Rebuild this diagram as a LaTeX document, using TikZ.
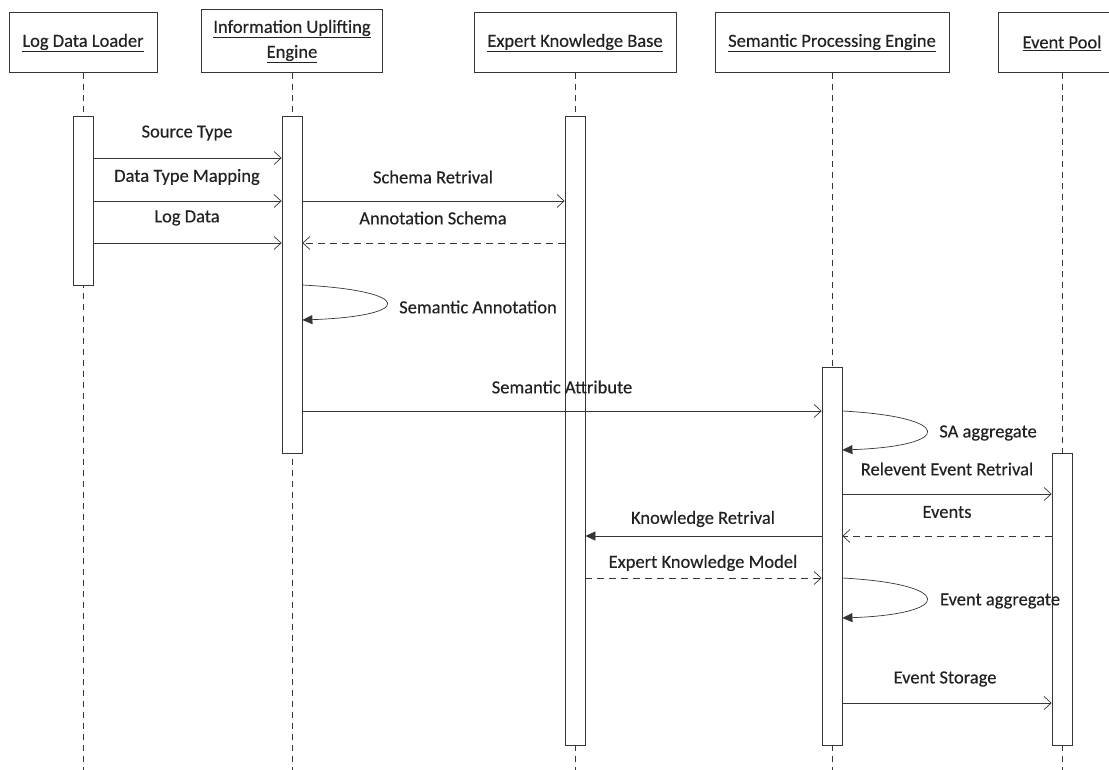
\documentclass[tikz,border=0pt]{standalone}
\usepackage{fontspec}
\setmainfont{Carlito}[UprightFeatures={FakeBold=0.3}]
\usetikzlibrary{arrows.meta}
\definecolor{ink}{HTML}{222222}
\definecolor{rule}{HTML}{363636}

\begin{document}
\begin{tikzpicture}[x=1pt,y=-1pt,
  every node/.style={font=\fontsize{18.5}{23}\selectfont, text=ink},
  head/.style={draw=rule, line width=1pt, fill=white, inner sep=0pt, align=center},
  life/.style={draw=rule, line width=0.7pt, dash pattern=on 6pt off 5pt},
  actbar/.style={draw=rule, line width=0.8pt, fill=white, minimum width=20pt, inner sep=0pt},
  msg/.style={draw=rule, line width=0.7pt, -{Straight Barb[length=7pt,width=13pt,line width=0.7pt]}},
  reply/.style={msg, dash pattern=on 7pt off 5pt},
  call/.style={draw=rule, line width=0.7pt, -{Triangle[length=10pt,width=9pt]}},
  lbl/.style={inner sep=1pt},
]
\clip (0,0) rectangle (1109,770);
\fill[white] (0,0) rectangle (1109,770);

% participants
\node[head, minimum width=148pt, minimum height=60pt] (ldl) at (83,43) {\underline{Log Data Loader}};
\node[head, minimum width=181pt, minimum height=63pt] (iue) at (292,41.5) {\underline{Information Uplifting}\\[2pt]\underline{Engine}};
\node[head, minimum width=202pt, minimum height=60pt] (ekb) at (575,43) {\underline{Expert Knowledge Base}};
\node[head, minimum width=234pt, minimum height=60pt] (spe) at (832,43) {\underline{Semantic Processing Engine}};
\node[head, minimum width=128pt, minimum height=60pt] (ep)  at (1062,43) {\underline{Event Pool}};

% lifelines
\coordinate (ldlEnd) at (83,770);
\coordinate (iueEnd) at (292,770);
\coordinate (ekbEnd) at (575,770);
\coordinate (speEnd) at (832,770);
\coordinate (epEnd)  at (1062,770);
\draw[life] (ldl.south) -- (ldlEnd);
\draw[life] (iue.south) -- (iueEnd);
\draw[life] (ekb.south) -- (ekbEnd);
\draw[life] (spe.south) -- (speEnd);
\draw[life] (ep.south)  -- (epEnd);

% activation bars
\node[actbar, minimum height=169pt] (ldlAct) at (83,200.5) {};
\node[actbar, minimum height=337pt] (iueAct) at (292,284.5) {};
\node[actbar, minimum height=629pt] (ekbAct) at (575,430.5) {};
\node[actbar, minimum height=378pt] (speAct) at (832,556) {};
\node[actbar, minimum height=292pt] (epAct)  at (1062,599) {};

% messages
\draw[msg] (ldlAct.east |- 0,158) -- (iueAct.west |- 0,158);
\node[lbl] (mSource) at (187,133) {Source Type};
\draw[msg] (ldlAct.east |- 0,201) -- (iueAct.west |- 0,201);
\node[lbl] (mMapping) at (187,177) {Data Type Mapping};
\draw[msg] (ldlAct.east |- 0,243) -- (iueAct.west |- 0,243);
\node[lbl] (mLog) at (187,218) {Log Data};

\draw[msg] (iueAct.east |- 0,201) -- (ekbAct.west |- 0,201);
\node[lbl] (mSchema) at (433,177) {Schema Retrival};
\draw[reply] (ekbAct.west |- 0,243) -- (iueAct.east |- 0,243);
\node[lbl] (mAnnSchema) at (433,218) {Annotation Schema};

\draw[call] (iueAct.east |- 0,285) .. controls +(112,6) and +(112,-4) .. (iueAct.east |- 0,320);
\node[lbl] (mSemAnn) at (478,307) {Semantic Annotation};

\draw[msg] (iueAct.east |- 0,411) -- (speAct.west |- 0,411);
\node[lbl] (mSemAttr) at (562,387) {Semantic Attribute};

\draw[call] (speAct.east |- 0,411) .. controls +(112,6) and +(112,-4) .. (speAct.east |- 0,450);
\node[lbl] (mSA) at (988,433) {SA aggregate};

\draw[msg] (speAct.east |- 0,494) -- (epAct.west |- 0,494);
\node[lbl] (mRel) at (947,469) {Relevent Event Retrival};
\draw[reply] (epAct.west |- 0,536) -- (speAct.east |- 0,536);
\node[lbl] (mEvents) at (947,512) {Events};

\draw[call] (speAct.west |- 0,536) -- (ekbAct.east |- 0,536);
\node[lbl] (mKR) at (703,519) {Knowledge Retrival};
\draw[reply] (ekbAct.east |- 0,578) -- (speAct.west |- 0,578);
\node[lbl] (mEKM) at (703,563) {Expert Knowledge Model};

\draw[call] (speAct.east |- 0,578) .. controls +(112,6) and +(112,-4) .. (speAct.east |- 0,618);
\node[lbl] (mEA) at (1000,601) {Event aggregate};

\draw[msg] (speAct.east |- 0,703) -- (epAct.west |- 0,703);
\node[lbl] (mStore) at (945,679) {Event Storage};
\end{tikzpicture}
\end{document}
